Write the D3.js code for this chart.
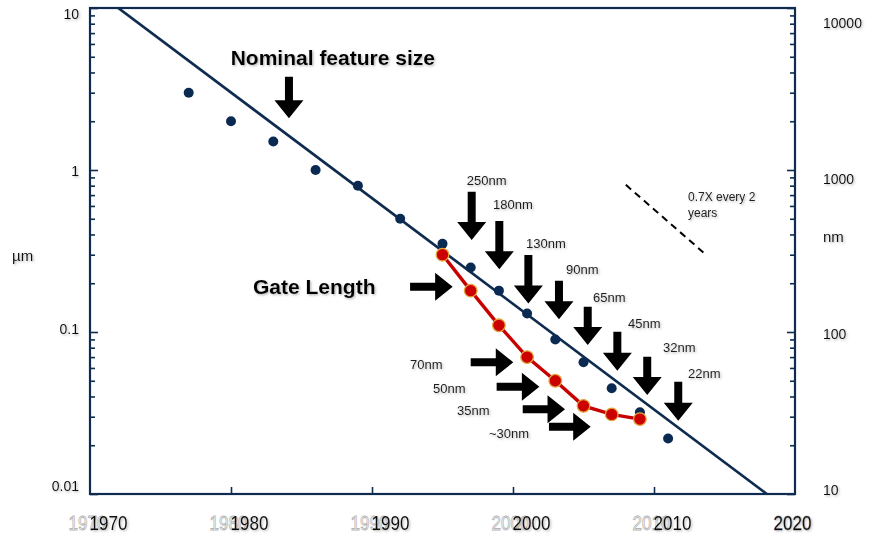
<!DOCTYPE html>
<html><head><meta charset="utf-8">
<script src="https://cdn.jsdelivr.net/npm/d3@7"></script>
<style>body{margin:0;background:#fff}svg{display:block}</style>
</head><body>
<svg id="c" width="872" height="534"></svg>
<script>
// ---- data ----
const xTickYears = [1970, 1980, 1990, 2000, 2010, 2020];
const yTicksUm = [0.01, 0.1, 1, 10];
const yTicksNm = [10, 100, 1000, 10000];

const nominalYears = [1977,1980,1983,1986,1989,1992,1995,1997,1999,2001,2003,2005,2007,2009,2011];
const nominalValues = [3.0,2.0,1.5,1.0,0.8,0.5,0.35,0.25,0.18,0.13,0.09,0.065,0.045,0.032,0.022];

const gateYears = [1995,1997,1999,2001,2003,2005,2007,2009];
const gateValues = [0.30,0.18,0.11,0.07,0.05,0.035,0.031,0.029];

const trendYears = [1972, 2018];
const trendValues = [10, 0.01];

const slopeYears = [2008.0, 2013.5];
const slopeValues = [0.81, 0.31];

const downLabels = ["250nm","180nm","130nm","90nm","65nm","45nm","32nm","22nm"];
const downYears = [1997.07,1999.03,2001.09,2003.26,2005.30,2007.40,2009.52,2011.72];
const downTops = [0.735,0.484,0.299,0.207,0.143,0.1005,0.0704,0.0493];
const downTips = [0.370,0.244,0.150,0.120,0.0832,0.0577,0.0408,0.0283];
const downLabelYears = [1996.72,1998.58,2000.92,2003.76,2005.67,2008.16,2010.64,2012.41];
const downLabelValues = [0.868,0.617,0.354,0.245,0.164,0.1137,0.080,0.0558];

const rightLabels = ["70nm","50nm","35nm","~30nm"];
const rightTails = [1997.0,1998.84,2000.69,2002.55];
const rightTips = [2000.02,2001.87,2003.69,2005.51];
const rightValues = [0.065,0.0459,0.0333,0.026];
const rightLabelYears = [1992.70,1994.33,1996.03,1998.30];
const rightLabelValues = [0.0634,0.0451,0.0327,0.0238];

const titles = ["Nominal feature size", "Gate Length"];
const titleYears = [1979.98, 1981.56];
const titleValues = [4.95, 0.192];
const nominalArrow = {year: 1984.11, top: 3.77, tip: 2.085};
const gateArrow = {tail: 1992.70, tip: 1995.72, value: 0.19};
const noteLines = ["0.7X every 2", "years"];
const noteYear = 2012.41;
const noteValues = [0.681, 0.543];

// ---- drawing ----
const svg = d3.select("#c");
const navy = "#0f2c50";
const x = d3.scaleLinear().domain([1970, 2020]).range([90, 795]);
const y = d3.scaleLog().domain([0.01, 10]).range([494, 8]);
const yNm = d3.scaleLog().domain([10, 10000]).range([494, 8]);
const yLabL = d3.scaleLog().domain([0.01, 10]).range([486, 14]);
const yLabR = d3.scaleLog().domain([10, 10000]).range([490, 23]);

const defs = svg.append("defs");
const f = defs.append("filter").attr("id","sh").attr("x","-20%").attr("y","-40%").attr("width","140%").attr("height","180%");
f.append("feDropShadow").attr("dx",1.2).attr("dy",1.2).attr("stdDeviation",0.9)
  .attr("flood-color","#777").attr("flood-opacity",0.55);
defs.append("clipPath").attr("id","clip").append("rect")
  .attr("x", x(1970)).attr("y", y(10)).attr("width", x(2020)-x(1970)).attr("height", y(0.01)-y(10));

// minor tick values
const minorUm = [];
[0.01,0.1,1].forEach(d => { for (let k=2;k<=9;k++) minorUm.push(d*k); });
const minorNm = minorUm.map(v => v*1000);

function styleAxis(g){ g.select(".domain").remove(); g.selectAll("line").attr("stroke", navy).attr("stroke-width",1.6); g.selectAll("text").remove(); }

svg.append("g").attr("transform",`translate(${x(1970)},0)`).call(d3.axisRight(y).tickValues(yTicksUm).tickSize(8)).call(styleAxis);
svg.append("g").attr("transform",`translate(${x(1970)},0)`).call(d3.axisRight(y).tickValues(minorUm).tickSize(5)).call(styleAxis);
svg.append("g").attr("transform",`translate(${x(2020)},0)`).call(d3.axisLeft(yNm).tickValues(yTicksNm).tickSize(8)).call(styleAxis);
svg.append("g").attr("transform",`translate(${x(2020)},0)`).call(d3.axisLeft(yNm).tickValues(minorNm).tickSize(5)).call(styleAxis);
svg.append("g").attr("transform",`translate(0,${y(0.01)})`).call(d3.axisTop(x).tickValues(xTickYears.slice(1,-1)).tickSize(7)).call(styleAxis);

svg.append("rect").attr("x", x(1970)).attr("y", y(10)).attr("width", x(2020)-x(1970)).attr("height", y(0.01)-y(10))
  .attr("fill","none").attr("stroke", navy).attr("stroke-width",2.2);

// axis labels
const lab = svg.append("g").attr("font-family","Liberation Sans, Arial, sans-serif").attr("fill","#111").attr("filter","url(#sh)");
lab.selectAll(".yl").data(yTicksUm).join("text").attr("x",79).attr("y",d=>yLabL(d)).attr("dy","0.36em")
  .attr("text-anchor","end").attr("font-size",14).text(d=>String(d));
lab.selectAll(".yr").data(yTicksNm).join("text").attr("x",823).attr("y",d=>yLabR(d)).attr("dy","0.36em")
  .attr("font-size",14).text(d=>String(d));
lab.append("text").attr("x",12).attr("y",256).attr("dy","0.36em").attr("font-size",15).text("µm");
lab.append("text").attr("x",823).attr("y",237).attr("dy","0.36em").attr("font-size",15).text("nm");

// x labels: ghost + main
svg.append("g").selectAll("text").data(xTickYears).join("text")
  .attr("x", d => x(d)-2.5).attr("y", 529.5).attr("text-anchor","middle")
  .attr("font-family","Liberation Sans, Arial, sans-serif").attr("font-size",21)
  .attr("textLength",38).attr("lengthAdjust","spacingAndGlyphs")
  .attr("fill","#fff").attr("stroke","#b5b5b5").attr("stroke-width",0.9).text(d=>d);
svg.append("g").attr("filter","url(#sh)").selectAll("text").data(xTickYears).join("text")
  .attr("x", d => Math.min(x(d)+18.5, x(2020)-2.5)).attr("y", 529.5).attr("text-anchor","middle")
  .attr("font-family","Liberation Sans, Arial, sans-serif").attr("font-size",21)
  .attr("textLength",38).attr("lengthAdjust","spacingAndGlyphs")
  .attr("fill","#111").text(d=>d);

// trend line
const line = d3.line().x(d=>x(d[0])).y(d=>y(d[1]));
svg.append("path").attr("clip-path","url(#clip)").attr("d", line(d3.zip(trendYears, trendValues)))
  .attr("fill","none").attr("stroke", navy).attr("stroke-width",2.7);

// slope dashed line
svg.append("path").attr("d", line(d3.zip(slopeYears, slopeValues)))
  .attr("fill","none").attr("stroke","#000").attr("stroke-width",2).attr("stroke-dasharray","7,5");

// nominal dots
svg.append("g").selectAll("circle").data(d3.zip(nominalYears, nominalValues)).join("circle")
  .attr("cx", d=>x(d[0])).attr("cy", d=>y(d[1])).attr("r",5).attr("fill","#0b2a52");

// gate line + dots
svg.append("path").attr("d", line(d3.zip(gateYears, gateValues)))
  .attr("fill","none").attr("stroke","#c80000").attr("stroke-width",3.4);
svg.append("g").selectAll("circle").data(d3.zip(gateYears, gateValues)).join("circle")
  .attr("cx", d=>x(d[0])).attr("cy", d=>y(d[1])).attr("r",6.3).attr("fill","#cc0000")
  .attr("stroke","#e2a53c").attr("stroke-width",1.3);

// arrows
function downArrow(cx, yTop, yTip){
  const hw=4, hh=14.5, hl=18, yb=yTip-hl;
  return `M${cx-hw},${yTop}L${cx+hw},${yTop}L${cx+hw},${yb}L${cx+hh},${yb}L${cx},${yTip}L${cx-hh},${yb}L${cx-hw},${yb}Z`;
}
function rightArrow(xTail, xTip, cy){
  const hw=4, hh=14, hl=17.5, xb=xTip-hl;
  return `M${xTail},${cy-hw}L${xb},${cy-hw}L${xb},${cy-hh}L${xTip},${cy}L${xb},${cy+hh}L${xb},${cy+hw}L${xTail},${cy+hw}Z`;
}
const arr = svg.append("g").attr("fill","#000");
downYears.forEach((yr,i)=> arr.append("path").attr("d", downArrow(x(yr), y(downTops[i]), y(downTips[i]))));
rightTails.forEach((t,i)=> arr.append("path").attr("d", rightArrow(x(t), x(rightTips[i]), y(rightValues[i]))));
arr.append("path").attr("d", downArrow(x(nominalArrow.year), y(nominalArrow.top), y(nominalArrow.tip)));
arr.append("path").attr("d", rightArrow(x(gateArrow.tail), x(gateArrow.tip), y(gateArrow.value)));

// annotation labels
const ann = svg.append("g").attr("font-family","Liberation Sans, Arial, sans-serif").attr("fill","#1a1a1a").attr("filter","url(#sh)");
downLabels.forEach((t,i)=> ann.append("text").attr("x", x(downLabelYears[i])).attr("y", y(downLabelValues[i])).attr("dy","0.36em").attr("font-size",13).text(t));
rightLabels.forEach((t,i)=> ann.append("text").attr("x", x(rightLabelYears[i])).attr("y", y(rightLabelValues[i])).attr("dy","0.36em").attr("font-size",13).text(t));
noteLines.forEach((t,i)=> ann.append("text").attr("x", x(noteYear)).attr("y", y(noteValues[i])).attr("dy","0.36em").attr("font-size",12).attr("fill","#222").text(t));
titles.forEach((t,i)=> ann.append("text").attr("x", x(titleYears[i])).attr("y", y(titleValues[i])).attr("dy","0.36em")
  .attr("font-size",21).attr("font-weight","bold").attr("fill","#000").text(t));
</script>
</body></html>
